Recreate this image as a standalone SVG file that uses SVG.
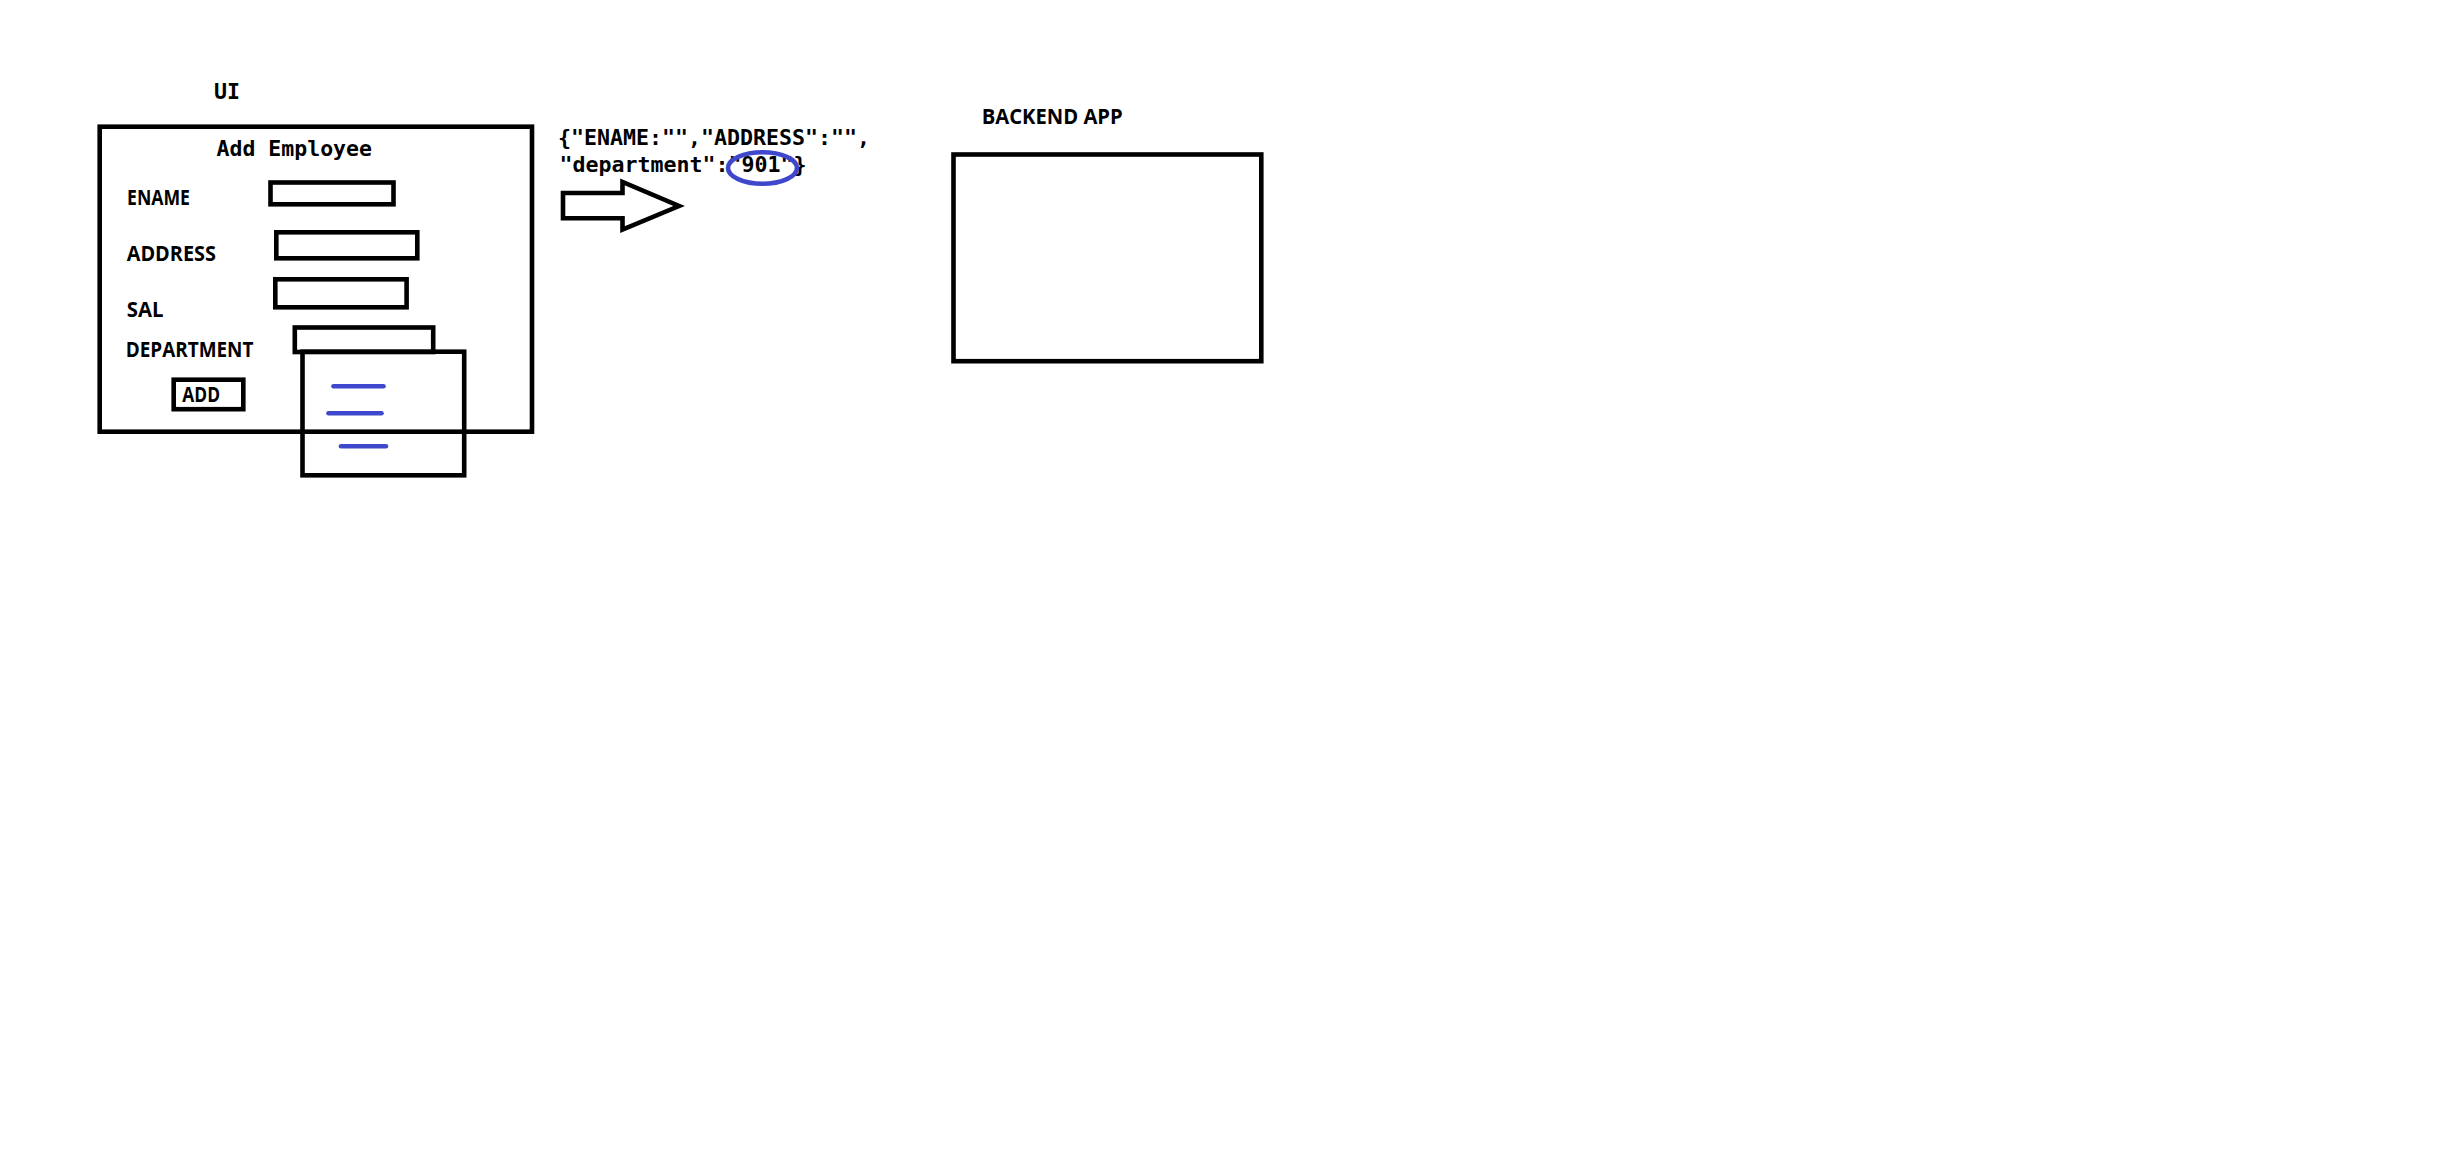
<svg xmlns="http://www.w3.org/2000/svg" width="2440" height="1176" viewBox="0 0 2440 1176">
<style>
.box{fill:none;stroke:#000;stroke-width:4.6}
.blue{fill:none;stroke:#3f48cc;stroke-width:4.6;stroke-linecap:round}
.mono{font-family:"DejaVu Sans Mono","Liberation Mono",monospace;font-weight:bold;font-size:21px;fill:#000}
.sans{font-family:"Open Sans","Liberation Sans",sans-serif;font-weight:bold;font-size:21px;fill:#000}
</style>
<rect width="2440" height="1176" fill="#fff"/>
<g id="ui-title"><text class="mono" x="214" y="99" textLength="26" lengthAdjust="spacingAndGlyphs">UI</text></g>
<g id="ui-form">
<rect class="box" x="99.7" y="126.7" width="432.3" height="305"/>
<text class="mono" x="216.5" y="155.7" textLength="155.5" lengthAdjust="spacingAndGlyphs">Add Employee</text>
</g>
<g id="ename">
<text class="sans" x="127" y="205" textLength="63" lengthAdjust="spacingAndGlyphs">ENAME</text>
<rect class="box" x="270.5" y="182.5" width="123" height="21.8"/>
</g>
<g id="address">
<text class="sans" x="126.7" y="261" textLength="89.3" lengthAdjust="spacingAndGlyphs">ADDRESS</text>
<rect class="box" x="276.3" y="232.3" width="141" height="26"/>
</g>
<g id="sal">
<text class="sans" x="126.7" y="316.7" textLength="36.7" lengthAdjust="spacingAndGlyphs">SAL</text>
<rect class="box" x="275.3" y="279.3" width="131.3" height="28"/>
</g>
<g id="department">
<text class="sans" x="125.7" y="356.7" textLength="127.7" lengthAdjust="spacingAndGlyphs">DEPARTMENT</text>
<rect class="box" x="294.8" y="327.5" width="138.4" height="24.5"/>
</g>
<g id="dropdown">
<rect class="box" x="302.5" y="351.7" width="161.7" height="123.6"/>
<line class="blue" x1="333.5" y1="386.3" x2="383.5" y2="386.3"/>
<line class="blue" x1="328.5" y1="413.3" x2="381.5" y2="413.3"/>
<line class="blue" x1="341" y1="446.3" x2="386" y2="446.3"/>
</g>
<g id="add-button">
<rect class="box" x="173.7" y="379.7" width="69.6" height="29.5"/>
<text class="sans" x="182.3" y="402.3" textLength="37.7" lengthAdjust="spacingAndGlyphs">ADD</text>
</g>
<g id="json-payload">
<text class="mono" x="558" y="145" textLength="312" lengthAdjust="spacingAndGlyphs">{"ENAME:"","ADDRESS":"",</text>
<text class="mono" x="559.5" y="171.7" textLength="247" lengthAdjust="spacingAndGlyphs">"department":"901"}</text>
<ellipse class="blue" cx="762.5" cy="168" rx="34.5" ry="15.8"/>
</g>
<g id="backend-app">
<text class="sans" x="981.7" y="124.3" textLength="141" lengthAdjust="spacingAndGlyphs">BACKEND APP</text>
<rect class="box" x="953.5" y="154.5" width="307.8" height="206.7"/>
</g>
<g id="connectors">
<path class="box" stroke-linejoin="miter" d="M563,193 L622.5,193 L622.5,182 L679,206 L622.5,229.5 L622.5,218.3 L563,218.3 Z"/>
</g>
</svg>
